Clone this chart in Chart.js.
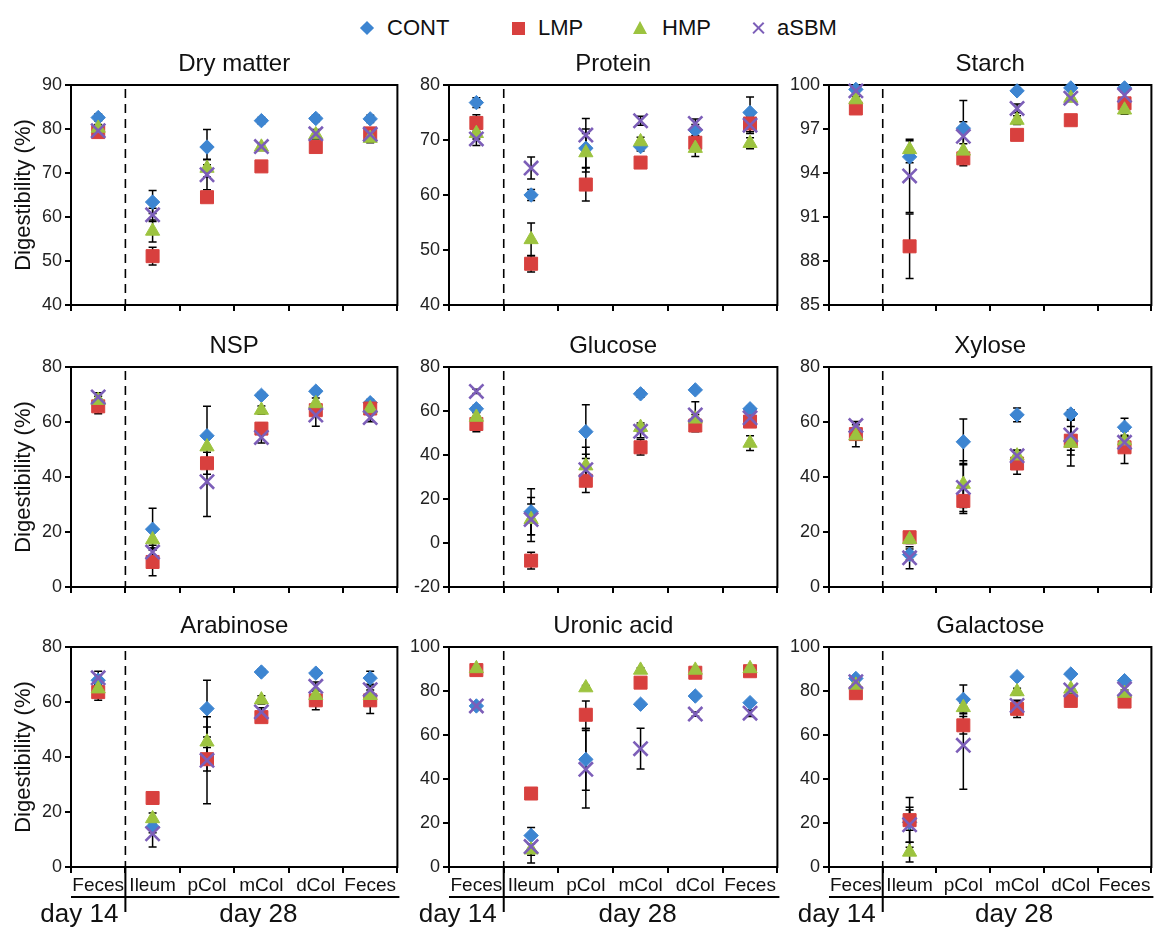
<!DOCTYPE html>
<html><head><meta charset="utf-8">
<script src="https://cdn.jsdelivr.net/npm/chart.js@4/dist/chart.umd.min.js"></script>
<style>
body{margin:0;background:#fff;width:1164px;height:927px;position:relative;overflow:hidden;font-family:"Liberation Sans",Arial,sans-serif;}
canvas{position:absolute;}
.lt{position:absolute;top:13px;font-size:22px;line-height:30px;color:#111;}
.mk{position:absolute;}
</style></head>
<body>
<div id="legend">
  <div class="mk" style="left:362px;top:23px;width:10px;height:10px;background:#3d85d1;transform:rotate(45deg);"></div>
  <div class="lt" style="left:387px;">CONT</div>
  <div class="mk" style="left:512px;top:22px;width:13px;height:13px;background:#d8403e;"></div>
  <div class="lt" style="left:538px;">LMP</div>
  <div class="mk" style="left:633px;top:21px;width:0;height:0;border-left:7px solid transparent;border-right:7px solid transparent;border-bottom:13px solid #9cc33f;"></div>
  <div class="lt" style="left:662px;">HMP</div>
  <div class="mk" style="left:751px;top:27px;width:15px;height:2.4px;background:#7c5eb8;transform:rotate(45deg);"></div>
  <div class="mk" style="left:751px;top:27px;width:15px;height:2.4px;background:#7c5eb8;transform:rotate(-45deg);"></div>
  <div class="lt" style="left:777px;">aSBM</div>
</div>
<script>
// ---- categories & series ----
const categories = ['Feces', 'Ileum', 'pCol', 'mCol', 'dCol', 'Feces'];
const seriesNames = ['CONT', 'LMP', 'HMP', 'aSBM'];
const panelTitles = ['Dry matter', 'Protein', 'Starch', 'NSP', 'Glucose', 'Xylose', 'Arabinose', 'Uronic acid', 'Galactose'];
// y-axis ranges [min, max, step]
const yRanges = [[40, 90, 10], [40, 80, 10], [85, 100, 3], [0, 80, 20], [-20, 80, 20], [0, 80, 20], [0, 80, 20], [0, 100, 20], [0, 100, 20]];

// Dry matter
const dmCONT = [82.6, 63.4, 75.9, 81.9, 82.4, 82.3];
const dmLMP  = [79.3, 51.1, 64.5, 71.5, 75.9, 79.0];
const dmHMP  = [80.2, 56.8, 71.1, 75.9, 78.7, 77.9];
const dmASBM = [79.6, 60.5, 69.6, 76.0, 78.9, 78.8];
const dmCONTerr = [0.8, 2.6, 4.0, 0.7, 0.7, 0.8];
const dmLMPerr  = [0.9, 2.0, 1.0, 1.0, 1.0, 1.2];
const dmHMPerr  = [0.8, 2.5, 2.0, 0.8, 1.0, 1.0];
const dmASBMerr = [0.8, 1.5, 3.4, 0.8, 1.0, 1.0];
// Protein
const prCONT = [76.8, 60.0, 68.5, 68.8, 71.8, 75.0];
const prLMP  = [73.1, 47.5, 61.9, 65.9, 69.5, 73.0];
const prHMP  = [71.2, 51.9, 67.7, 69.7, 68.5, 69.4];
const prASBM = [70.2, 64.9, 70.9, 73.5, 73.0, 72.7];
const prCONTerr = [0.9, 1.0, 3.5, 0.8, 1.0, 2.8];
const prLMPerr  = [1.5, 1.5, 3.0, 0.8, 1.2, 1.5];
const prHMPerr  = [1.0, 3.0, 3.5, 0.8, 1.5, 1.0];
const prASBMerr = [1.2, 2.0, 3.0, 0.8, 0.8, 1.5];
// Starch
const stCONT = [99.7, 95.1, 97.05, 99.6, 99.8, 99.8];
const stLMP  = [98.4, 89.0, 95.0, 96.6, 97.6, 98.75];
const stHMP  = [99.0, 95.6, 95.5, 97.6, 99.1, 98.3];
const stASBM = [99.6, 93.8, 96.5, 98.4, 99.1, 99.3];
const stCONTerr = [0.2, 0.4, 1.9, 0.2, 0.2, 0.2];
const stLMPerr  = [0.2, 2.2, 0.5, 0.3, 0.3, 0.3];
const stHMPerr  = [0.2, 0.6, 0.5, 0.3, 0.2, 0.3];
const stASBMerr = [0.2, 2.5, 1.0, 0.3, 0.2, 0.2];
// NSP
const nsCONT = [66.5, 21.0, 55.0, 69.7, 71.2, 67.0];
const nsLMP  = [65.7, 9.1, 45.0, 57.6, 64.3, 64.9];
const nsHMP  = [67.9, 17.2, 51.0, 64.3, 66.7, 64.9];
const nsASBM = [69.1, 12.7, 38.3, 54.4, 62.5, 61.6];
const nsCONTerr = [2.0, 7.6, 10.7, 1.0, 1.0, 1.2];
const nsLMPerr  = [2.7, 5.0, 4.0, 2.0, 2.0, 2.0];
const nsHMPerr  = [1.5, 3.0, 4.0, 1.5, 2.0, 2.0];
const nsASBMerr = [1.5, 2.5, 12.7, 2.0, 4.0, 1.5];
// Glucose
const glCONT = [61.0, 14.2, 50.6, 67.8, 69.6, 61.0];
const glLMP  = [54.1, -8.0, 28.3, 43.5, 53.4, 55.2];
const glHMP  = [57.2, 10.7, 35.1, 52.6, 56.4, 45.4];
const glASBM = [68.9, 10.7, 33.3, 50.8, 58.2, 56.9];
const glCONTerr = [1.5, 10.5, 12.2, 1.5, 1.0, 1.2];
const glLMPerr  = [3.5, 3.8, 5.4, 3.5, 2.8, 2.0];
const glHMPerr  = [2.0, 7.0, 8.4, 2.0, 2.0, 3.4];
const glASBMerr = [1.0, 10.0, 7.0, 3.0, 6.0, 2.0];
// Xylose
const xyCONT = [56.5, 11.8, 52.8, 62.6, 62.9, 58.1];
const xyLMP  = [55.6, 18.1, 31.3, 44.9, 53.2, 50.8];
const xyHMP  = [55.0, 17.3, 37.4, 47.7, 52.3, 53.2];
const xyASBM = [58.7, 10.6, 36.2, 47.7, 55.3, 52.6];
const xyCONTerr = [1.5, 2.0, 8.3, 2.5, 1.5, 3.3];
const xyLMPerr  = [2.0, 1.0, 4.6, 3.9, 5.2, 5.9];
const xyHMPerr  = [4.0, 1.5, 8.5, 2.0, 8.3, 2.0];
const xyASBMerr = [1.5, 4.0, 8.7, 2.0, 5.6, 2.0];
// Arabinose
const arCONT = [67.9, 14.5, 57.6, 70.9, 70.5, 68.7];
const arLMP  = [63.6, 25.1, 39.2, 54.5, 60.6, 60.6];
const arHMP  = [64.8, 17.6, 45.5, 60.8, 62.4, 62.4];
const arASBM = [68.8, 12.1, 38.8, 56.4, 65.7, 64.5];
const arCONTerr = [2.0, 2.0, 10.3, 1.0, 1.0, 2.5];
const arLMPerr  = [3.0, 1.0, 4.3, 1.5, 3.4, 4.8];
const arHMPerr  = [2.0, 2.0, 5.4, 1.5, 2.0, 2.0];
const arASBMerr = [2.4, 4.8, 15.8, 1.5, 1.6, 2.0];
// Uronic acid
const urCONT = [73.2, 14.3, 48.9, 74.0, 77.7, 74.7];
const urLMP  = [89.5, 33.4, 69.2, 83.8, 88.3, 89.0];
const urHMP  = [90.2, 7.8, 81.5, 89.5, 89.5, 90.2];
const urASBM = [73.2, 9.3, 44.4, 53.8, 69.5, 69.9];
const urCONTerr = [1.5, 3.7, 14.0, 1.0, 1.0, 1.0];
const urLMPerr  = [1.0, 1.0, 6.3, 1.0, 1.0, 1.0];
const urHMPerr  = [1.0, 6.0, 1.0, 1.0, 1.0, 1.0];
const urASBMerr = [1.5, 4.0, 17.6, 9.3, 1.0, 1.5];
// Galactose
const gaCONT = [85.7, 20.3, 76.2, 86.5, 87.7, 84.7];
const gaLMP  = [79.0, 21.3, 64.4, 71.9, 75.5, 75.2];
const gaHMP  = [82.7, 6.8, 72.5, 79.7, 80.9, 79.0];
const gaASBM = [84.2, 19.2, 55.3, 73.4, 80.5, 80.9];
const gaCONTerr = [1.0, 11.3, 6.5, 1.0, 1.0, 1.0];
const gaLMPerr  = [1.0, 4.6, 4.0, 3.9, 1.0, 1.0];
const gaHMPerr  = [1.0, 4.5, 2.0, 1.5, 1.5, 1.5];
const gaASBMerr = [1.0, 8.0, 20.0, 2.0, 1.5, 1.5];

const panelValues = [
  [dmCONT, dmLMP, dmHMP, dmASBM], [prCONT, prLMP, prHMP, prASBM], [stCONT, stLMP, stHMP, stASBM],
  [nsCONT, nsLMP, nsHMP, nsASBM], [glCONT, glLMP, glHMP, glASBM], [xyCONT, xyLMP, xyHMP, xyASBM],
  [arCONT, arLMP, arHMP, arASBM], [urCONT, urLMP, urHMP, urASBM], [gaCONT, gaLMP, gaHMP, gaASBM]
];
const panelErrors = [
  [dmCONTerr, dmLMPerr, dmHMPerr, dmASBMerr], [prCONTerr, prLMPerr, prHMPerr, prASBMerr], [stCONTerr, stLMPerr, stHMPerr, stASBMerr],
  [nsCONTerr, nsLMPerr, nsHMPerr, nsASBMerr], [glCONTerr, glLMPerr, glHMPerr, glASBMerr], [xyCONTerr, xyLMPerr, xyHMPerr, xyASBMerr],
  [arCONTerr, arLMPerr, arHMPerr, arASBMerr], [urCONTerr, urLMPerr, urHMPerr, urASBMerr], [gaCONTerr, gaLMPerr, gaHMPerr, gaASBMerr]
];

// ---- styling / layout ----
const FONT = "'Liberation Sans', Arial, sans-serif";
Chart.defaults.font.family = FONT;
const STY = [
  {style: 'rectRot', r: 7.2, color: '#3d85d1', bw: 1},
  {style: 'rect', r: 9.2, color: '#d8403e', bw: 1},
  {style: 'triangle', r: 8.2, color: '#9cc33f', bw: 1},
  {style: 'crossRot', r: 10, color: '#7c5eb8', bw: 2.6}
];
const COL_LEFT = [0, 410, 790], COL_W = [410, 380, 374];
const PLOT_L = [71, 449, 829], PLOT_R = [400, 780, 1160];
const PLOT_T = [85, 367, 647], PLOT_H = 220;

const panelPlugin = {
  id: 'panel',
  beforeDatasetsDraw(chart, args, opts) {
    const ctx = chart.ctx, a = chart.chartArea, xs = chart.scales.x, ys = chart.scales.y;
    ctx.save();
    ctx.strokeStyle = '#000';
    ctx.lineWidth = 2;
    ctx.strokeRect(a.left, a.top, a.right - a.left, a.bottom - a.top);
    // dashed separator
    const sep = (xs.getPixelForValue(0) + xs.getPixelForValue(1)) / 2;
    ctx.lineWidth = 1.6;
    ctx.setLineDash([9, 6]);
    ctx.beginPath(); ctx.moveTo(sep, a.top + 4); ctx.lineTo(sep, a.bottom); ctx.stroke();
    ctx.setLineDash([]);
    // error bars
    ctx.lineWidth = 1.5;
    chart.data.datasets.forEach((ds, di) => {
      const meta = chart.getDatasetMeta(di);
      ds.errors.forEach((e, i) => {
        const v = ds.data[i];
        const x = meta.data[i].x;
        const y1 = ys.getPixelForValue(v + e), y2 = ys.getPixelForValue(v - e);
        ctx.beginPath();
        ctx.moveTo(x, y1); ctx.lineTo(x, y2);
        ctx.moveTo(x - 4, y1); ctx.lineTo(x + 4, y1);
        ctx.moveTo(x - 4, y2); ctx.lineTo(x + 4, y2);
        ctx.stroke();
      });
    });
    ctx.restore();
  },
  afterDraw(chart, args, opts) {
    const ctx = chart.ctx, a = chart.chartArea, xs = chart.scales.x;
    ctx.save();
    ctx.fillStyle = '#111';
    ctx.font = '24px ' + FONT;
    ctx.textAlign = 'center';
    ctx.textBaseline = 'alphabetic';
    ctx.fillText(opts.title, (a.left + a.right) / 2, a.top - 14);
    if (opts.col === 0) {
      ctx.save();
      ctx.translate(24, (a.top + a.bottom) / 2);
      ctx.rotate(-Math.PI / 2);
      ctx.font = '22px ' + FONT;
      ctx.textBaseline = 'middle';
      ctx.fillText('Digestibility (%)', 0, 0);
      ctx.restore();
    }
    if (opts.row === 2) {
      const sep = (xs.getPixelForValue(0) + xs.getPixelForValue(1)) / 2;
      ctx.strokeStyle = '#000';
      ctx.lineWidth = 2;
      ctx.beginPath();
      ctx.moveTo(a.left, a.bottom + 30); ctx.lineTo(a.right + 2, a.bottom + 30);
      ctx.moveTo(sep, a.bottom); ctx.lineTo(sep, a.bottom + 45);
      ctx.stroke();
      ctx.font = '26px ' + FONT;
      ctx.textAlign = 'right';
      ctx.fillText('day 14', sep - 7, a.bottom + 55);
      ctx.textAlign = 'center';
      ctx.fillText('day 28', (sep + a.right) / 2 - 3, a.bottom + 55);
    }
    ctx.restore();
  }
};

function makePanel(k) {
  const row = Math.floor(k / 3), col = k % 3;
  const cl = COL_LEFT[col], cw = COL_W[col];
  const pt = PLOT_T[row], pb = pt + PLOT_H;
  const ct = pt - 45;
  const cb = row === 2 ? 927 : pb + 16;
  const xH = row === 2 ? 32 : 8;
  const cv = document.createElement('canvas');
  cv.width = cw; cv.height = cb - ct;
  cv.style.left = cl + 'px'; cv.style.top = ct + 'px';
  cv.style.width = cw + 'px'; cv.style.height = (cb - ct) + 'px';
  document.body.appendChild(cv);
  const [ymin, ymax, ystep] = yRanges[k];
  new Chart(cv, {
    type: 'line',
    data: {
      labels: categories,
      datasets: seriesNames.map((n, i) => ({
        label: n,
        data: panelValues[k][i],
        errors: panelErrors[k][i],
        showLine: false,
        clip: false,
        order: 3 - i,
        pointStyle: STY[i].style,
        pointRadius: STY[i].r,
        pointHoverRadius: STY[i].r,
        pointBackgroundColor: STY[i].color,
        pointBorderColor: STY[i].color,
        pointBorderWidth: STY[i].bw
      }))
    },
    options: {
      responsive: false,
      animation: false,
      devicePixelRatio: 1,
      events: [],
      layout: {padding: {top: 45, left: 0, right: cl + cw - PLOT_R[col], bottom: (cb - pb) - xH}},
      plugins: {
        legend: {display: false},
        tooltip: {enabled: false},
        panel: {title: panelTitles[k], row: row, col: col}
      },
      scales: {
        x: {
          type: 'category',
          offset: true,
          grid: {offset: true, drawOnChartArea: false, drawTicks: true, tickLength: 6, color: '#000', lineWidth: 2},
          border: {display: true, color: '#000', width: 2},
          ticks: {display: row === 2, font: {size: 19, family: FONT}, color: '#111', padding: 1, maxRotation: 0, autoSkip: false},
          afterFit: (s) => { s.height = xH; }
        },
        y: {
          min: ymin, max: ymax,
          grid: {drawOnChartArea: false, drawTicks: true, tickLength: 6, color: '#000', lineWidth: 2},
          border: {display: true, color: '#000', width: 2},
          ticks: {stepSize: ystep, font: {size: 18, family: FONT}, color: '#222', padding: 3},
          afterFit: (s) => { s.width = PLOT_L[col] - cl; }
        }
      }
    },
    plugins: [panelPlugin]
  });
}
for (let k = 0; k < 9; k++) makePanel(k);
</script>
</body></html>
